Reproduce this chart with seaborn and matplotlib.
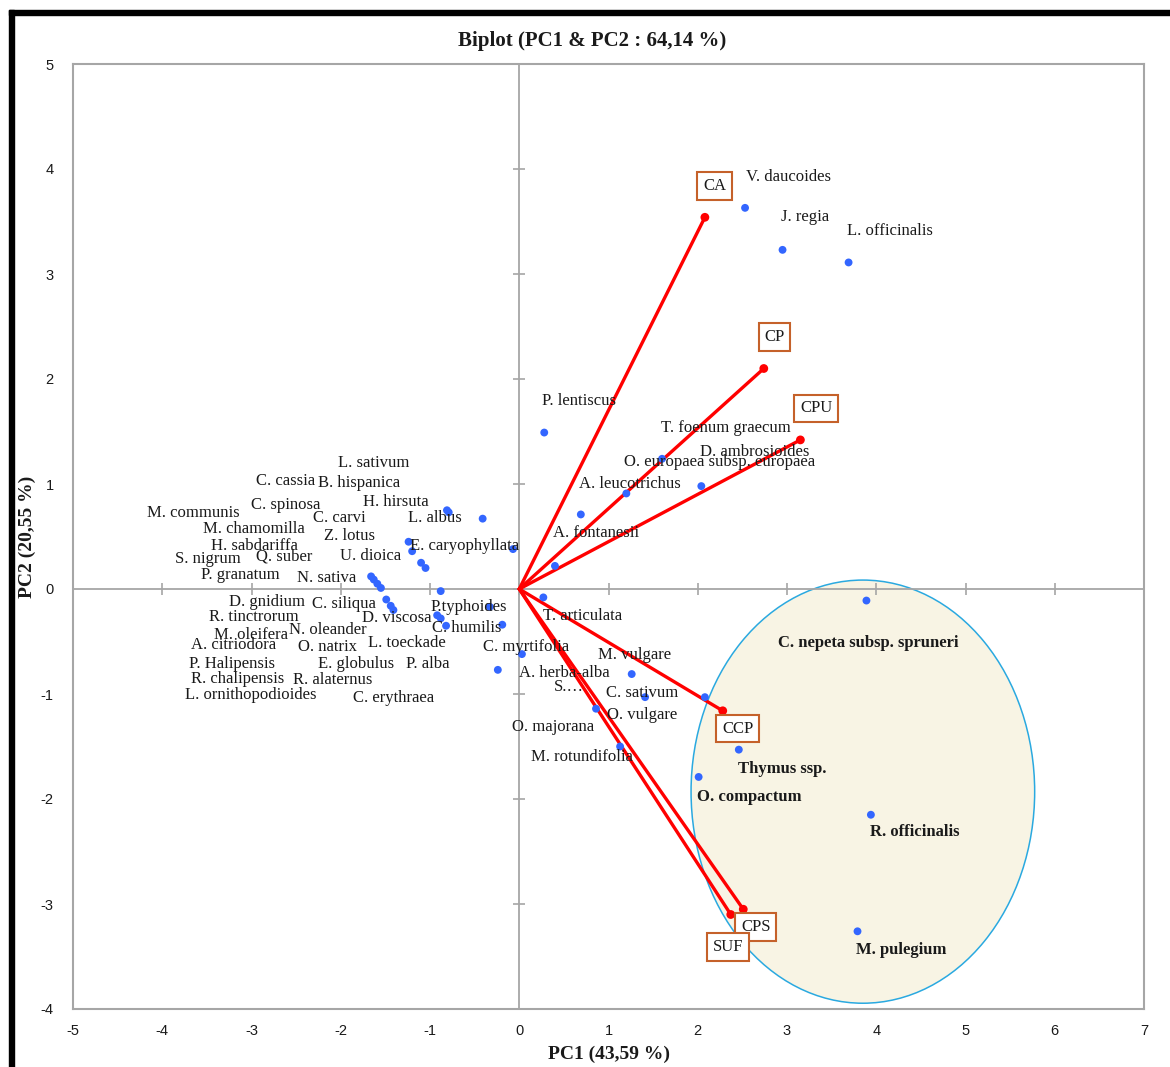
import numpy as np
import pandas as pd
import matplotlib
matplotlib.use("Agg")
import matplotlib.pyplot as plt
import seaborn as sns
from matplotlib.patches import Ellipse, Rectangle

# ---------------------------------------------------------------
# Observation scores on the first two principal components
# ---------------------------------------------------------------
obs_pc1 = [-0.81, -0.79, -0.41, -1.24, -1.20, -1.10, -1.05, -0.07,
           -1.66, -1.63, -1.59, -1.55, -0.88, -1.49, -1.44, -1.41,
           -0.92, -0.88, -0.82, -0.33, -0.19, -0.24, 0.03, 0.27,
           0.28, 0.40, 0.69, 1.20, 1.60, 2.04, 2.53, 2.95, 3.69,
           1.26, 1.41, 2.08, 0.86, 1.13, 3.89, 2.46, 2.01, 3.94, 3.79]
obs_pc2 = [0.75, 0.73, 0.67, 0.45, 0.36, 0.25, 0.20, 0.38,
           0.12, 0.09, 0.05, 0.01, -0.02, -0.10, -0.16, -0.20,
           -0.25, -0.28, -0.35, -0.17, -0.34, -0.77, -0.62, -0.08,
           1.49, 0.22, 0.71, 0.91, 1.24, 0.98, 3.63, 3.23, 3.11,
           -0.81, -1.03, -1.03, -1.14, -1.50, -0.11, -1.53, -1.79, -2.15, -3.26]

# Variable loadings (vectors)
variables = ["CA", "CP", "CPU", "CCP", "CPS", "SUF"]
var_pc1 = [2.08, 2.74, 3.15, 2.28, 2.51, 2.37]
var_pc2 = [3.54, 2.10, 1.42, -1.16, -3.05, -3.10]

# Species names
species = [
    "L. sativum", "C. cassia", "B. hispanica", "H. hirsuta", "C. spinosa",
    "M. communis", "C. carvi", "L. albus", "M. chamomilla", "Z. lotus",
    "H. sabdariffa", "E. caryophyllata", "S. nigrum", "Q. suber", "U. dioica",
    "P. granatum", "N. sativa", "D. gnidium", "C. siliqua", "P.typhoides",
    "R. tinctrorum", "D. viscosa", "M. oleifera", "N. oleander", "C. humilis",
    "A. citriodora", "O. natrix", "L. toeckade", "C. myrtifolia",
    "P. Halipensis", "E. globulus", "P. alba", "R. chalipensis",
    "R. alaternus", "L. ornithopodioides", "C. erythraea",
    "P. lentiscus", "T. foenum graecum", "D. ambrosioides",
    "O. europaea subsp. europaea", "A. leucotrichus", "A. fontanesii",
    "V. daucoides", "J. regia", "L. officinalis", "T. articulata",
    "M. vulgare", "A. herba-alba", "S.…", "C. sativum", "O. vulgare",
    "O. majorana", "M. rotundifolia",
    "C. nepeta subsp. spruneri", "Thymus ssp.", "O. compactum",
    "R. officinalis", "M. pulegium",
]
cluster_species = ["C. nepeta subsp. spruneri", "Thymus ssp.", "O. compactum",
                   "R. officinalis", "M. pulegium"]

# ---------------------------------------------------------------
# Layout: label anchor points (left edge, vertical centre), data units
# ---------------------------------------------------------------
label_xy = {
    "L. sativum": (-2.03, 1.20), "C. cassia": (-2.95, 1.03),
    "B. hispanica": (-2.26, 1.01), "H. hirsuta": (-1.75, 0.83),
    "C. spinosa": (-3.01, 0.80), "M. communis": (-4.17, 0.72),
    "C. carvi": (-2.31, 0.68), "L. albus": (-1.25, 0.68),
    "M. chamomilla": (-3.54, 0.57), "Z. lotus": (-2.19, 0.50),
    "H. sabdariffa": (-3.45, 0.41), "E. caryophyllata": (-1.22, 0.41),
    "S. nigrum": (-3.86, 0.29), "Q. suber": (-2.95, 0.31),
    "U. dioica": (-2.01, 0.31), "P. granatum": (-3.57, 0.13),
    "N. sativa": (-2.49, 0.10), "D. gnidium": (-3.25, -0.12),
    "C. siliqua": (-2.32, -0.14), "P.typhoides": (-0.99, -0.17),
    "R. tinctrorum": (-3.48, -0.27), "D. viscosa": (-1.76, -0.28),
    "M. oleifera": (-3.42, -0.44), "N. oleander": (-2.58, -0.39),
    "C. humilis": (-0.98, -0.37), "A. citriodora": (-3.68, -0.53),
    "O. natrix": (-2.48, -0.55), "L. toeckade": (-1.70, -0.51),
    "C. myrtifolia": (-0.41, -0.55), "P. Halipensis": (-3.70, -0.71),
    "E. globulus": (-2.26, -0.71), "P. alba": (-1.27, -0.71),
    "R. chalipensis": (-3.68, -0.86), "R. alaternus": (-2.53, -0.87),
    "L. ornithopodioides": (-3.74, -1.01), "C. erythraea": (-1.86, -1.04),
    "P. lentiscus": (0.26, 1.79), "T. foenum graecum": (1.59, 1.53),
    "D. ambrosioides": (2.03, 1.30), "O. europaea subsp. europaea": (1.17, 1.21),
    "A. leucotrichus": (0.67, 1.00), "A. fontanesii": (0.38, 0.53),
    "V. daucoides": (2.54, 3.92), "J. regia": (2.93, 3.54),
    "L. officinalis": (3.67, 3.41), "T. articulata": (0.27, -0.26),
    "M. vulgare": (0.88, -0.63), "A. herba-alba": (0.00, -0.80),
    "S.…": (0.39, -0.93), "C. sativum": (0.97, -0.99),
    "O. vulgare": (0.98, -1.20), "O. majorana": (-0.08, -1.31),
    "M. rotundifolia": (0.13, -1.60),
    "C. nepeta subsp. spruneri": (2.90, -0.51), "Thymus ssp.": (2.45, -1.71),
    "O. compactum": (1.99, -1.98), "R. officinalis": (3.93, -2.31),
    "M. pulegium": (3.77, -3.44),
}
# centre of each variable's boxed label
var_label_xy = {
    "CA": (2.19, 3.84), "CP": (2.86, 2.40), "CPU": (3.33, 1.72),
    "CCP": (2.45, -1.33), "CPS": (2.65, -3.22), "SUF": (2.34, -3.41),
}

obs = pd.DataFrame({"PC1": obs_pc1, "PC2": obs_pc2})
loads = pd.DataFrame({"var": variables, "PC1": var_pc1, "PC2": var_pc2})

# ---------------------------------------------------------------
sns.set_theme(style="white")
serif = ["Liberation Serif", "DejaVu Serif"]
narrow = ["Liberation Sans Narrow", "Liberation Sans", "DejaVu Sans"]
plt.rcParams["font.family"] = serif
plt.rcParams["axes.unicode_minus"] = False

W, H = 1170, 1067
fig = plt.figure(figsize=(W / 100, H / 100), dpi=100)
fig.patch.set_facecolor("white")
ax = fig.add_axes([73 / W, 1 - 1009 / H, (1144 - 73) / W, (1009 - 64) / H])
ax.set_facecolor("white")

grey = "#a6a6a6"
ax.set_xlim(-5, 7)
ax.set_ylim(-4, 5)

# confidence ellipse around the aromatic cluster
ax.add_patch(Ellipse((3.85, -1.93), 3.85, 4.03, facecolor="#f8f4e4",
                     edgecolor="#2aa9e0", lw=1.1, zorder=1))

# zero axes with their own tick marks
ax.axhline(0, color=grey, lw=1.3, zorder=2)
ax.axvline(0, color=grey, lw=1.3, zorder=2)
xt = np.arange(-5, 8)
yt = np.arange(-4, 6)
ax.plot(xt, np.zeros_like(xt), ls="none", marker="|", ms=8, mew=1.2,
        color=grey, zorder=2)
ax.plot(np.zeros_like(yt), yt, ls="none", marker="_", ms=8, mew=1.2,
        color=grey, zorder=2)

# variable vectors
for _, r in loads.iterrows():
    ax.plot([0, r.PC1], [0, r.PC2], color="#ff0000", lw=2.4, zorder=3,
            solid_capstyle="round")
sns.scatterplot(data=loads, x="PC1", y="PC2", color="#ff0000", s=40,
                edgecolor="none", ax=ax, zorder=4, legend=False)

# observations
sns.scatterplot(data=obs, x="PC1", y="PC2", color="#3366ff", s=32,
                edgecolor="none", ax=ax, zorder=5, legend=False)

# species labels
for name in species:
    x, y = label_xy[name]
    ax.text(x, y, name, ha="left", va="center", fontsize=12,
            fontweight="bold" if name in cluster_species else "normal",
            color="#1a1a1a", family=serif, zorder=6)

# boxed variable labels
for v in variables:
    x, y = var_label_xy[v]
    ax.text(x, y, v, ha="center", va="center", fontsize=12, family=serif,
            color="#1a1a1a", zorder=7,
            bbox=dict(boxstyle="square,pad=0.35", fc="white",
                      ec="#c5612a", lw=1.5))

# frame, ticks and titles
for s in ax.spines.values():
    s.set_visible(True)
    s.set_color(grey)
    s.set_linewidth(1.5)
ax.set_xticks(xt)
ax.set_yticks(yt)
ax.tick_params(length=0, labelsize=10.5, colors="#1a1a1a")
ax.tick_params(axis="x", pad=11)
ax.tick_params(axis="y", pad=14)
for lab in ax.get_xticklabels() + ax.get_yticklabels():
    lab.set_family(narrow)
ax.set_xlabel("PC1 (43,59 %)", fontsize=14, fontweight="bold",
              family=serif, labelpad=5, color="#1a1a1a")
ax.set_ylabel("PC2 (20,55 %)", fontsize=14, fontweight="bold",
              family=serif, labelpad=3, color="#1a1a1a")
fig.text(592 / W, 1 - 41 / H, "Biplot (PC1 & PC2 : 64,14 %)", ha="center",
         va="center", fontsize=15, fontweight="bold", family=serif,
         color="#1a1a1a")

# heavy outer border on the top and left edges
fig.patches.append(Rectangle((9 / W, 0), 4.5 / W, 1 - 10 / H,
                             transform=fig.transFigure, color="black",
                             zorder=10))
fig.patches.append(Rectangle((9 / W, 1 - 14.5 / H), 1 - 9 / W, 4.5 / H,
                             transform=fig.transFigure, color="black",
                             zorder=10))

fig.savefig("out.png", dpi=100, facecolor="white")
